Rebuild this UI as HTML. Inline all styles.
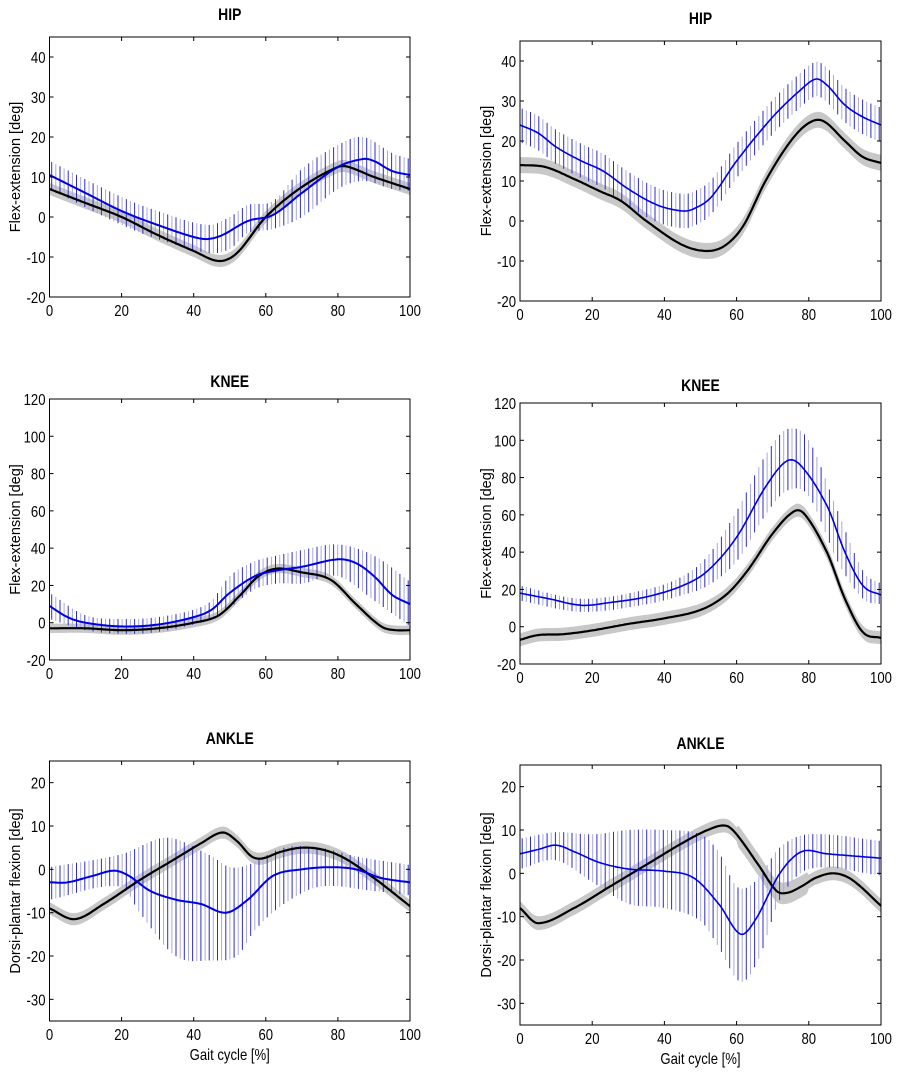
<!DOCTYPE html>
<html><head><meta charset="utf-8"><style>
html,body{margin:0;padding:0;background:#fff;}
svg{display:block;}
text{font-family:"Liberation Sans",sans-serif;fill:#000;}
</style></head><body>
<svg id="s" width="900" height="1075" viewBox="0 0 900 1075" xmlns="http://www.w3.org/2000/svg"></svg>
<script>
const S=document.getElementById('s');
let out='';
function herm(p){return function(x){
 const n=p.length;
 if(x<=p[0][0])return p[0][1]; if(x>=p[n-1][0])return p[n-1][1];
 let i=0;while(p[i+1][0]<x)i++;
 const sl=k=>{const a=p[Math.max(k-1,0)],b=p[Math.min(k+1,n-1)];return (b[1]-a[1])/(b[0]-a[0]);};
 const x0=p[i][0],x1=p[i+1][0],h=x1-x0,t=(x-x0)/h;
 const m0=sl(i)*h,m1=sl(i+1)*h;
 const t2=t*t,t3=t2*t;
 return (2*t3-3*t2+1)*p[i][1]+(t3-2*t2+t)*m0+(-2*t3+3*t2)*p[i+1][1]+(t3-t2)*m1;};}
function nt(x,y,s,anchor,txt,extra){return `<text transform="translate(${x},${y}) scale(0.82,1)" font-size="${s}" text-anchor="${anchor}" ${extra||''}>${txt}</text>`;}
function plot(o){
 const X=v=>o.x0+(o.x1-o.x0)*v/100, Y=v=>o.yb+(o.yt-o.yb)*(v-o.ymin)/(o.ymax-o.ymin);
 const bk=herm(o.black), bl=herm(o.blue);
 const up=o.up?herm(o.up):(x=>bl(x)+o.sd), lo=o.lo?herm(o.lo):(x=>bl(x)-o.sd);
 const bw=o.bw||(x=>1.5);
 let a=[],b=[];
 for(let x=0;x<=100;x+=0.5){a.push(X(x).toFixed(1)+','+Y(bk(x)+bw(x)).toFixed(1));b.unshift(X(x).toFixed(1)+','+Y(bk(x)-bw(x)).toFixed(1));}
 out+=`<polygon points="${a.concat(b).join(' ')}" fill="#c8c8c8"/>`;
 let k=0;
 for(let x=0.6;x<=100;x+=1.15,k++){
  const c=k%2?'#a8a8e4':'#2c2cc8';
  out+=`<line x1="${X(x).toFixed(1)}" x2="${X(x).toFixed(1)}" y1="${Y(up(x)).toFixed(1)}" y2="${Y(lo(x)).toFixed(1)}" stroke="${c}" stroke-width="1"/>`;
 }
 let pb=[],pk=[];
 for(let x=0;x<=100;x+=0.5){pb.push(X(x).toFixed(1)+','+Y(bl(x)).toFixed(1));pk.push(X(x).toFixed(1)+','+Y(bk(x)).toFixed(1));}
 out+=`<polyline points="${pk.join(' ')}" fill="none" stroke="#000" stroke-width="2.2"/>`;
 out+=`<polyline points="${pb.join(' ')}" fill="none" stroke="#0000e0" stroke-width="${o.bs||2}"/>`;
 out+=`<rect x="${o.x0}" y="${o.yt}" width="${o.x1-o.x0}" height="${o.yb-o.yt}" fill="none" stroke="#000" stroke-width="1"/>`;
 for(let v=0;v<=100;v+=20){const xx=X(v);
  out+=`<line x1="${xx}" x2="${xx}" y1="${o.yb}" y2="${o.yb-4}" stroke="#000"/><line x1="${xx}" x2="${xx}" y1="${o.yt}" y2="${o.yt+4}" stroke="#000"/>`;
  out+=nt(xx,o.yb+19,16,'middle',v);}
 for(let v=o.t0;v<=o.t1;v+=o.ts){const yy=Y(v);
  out+=`<line x1="${o.x0}" x2="${o.x0+4}" y1="${yy}" y2="${yy}" stroke="#000"/><line x1="${o.x1}" x2="${o.x1-4}" y1="${yy}" y2="${yy}" stroke="#000"/>`;
  out+=nt(o.x0-4,yy+6,16,'end',v);}
 const cx=(o.x0+o.x1)/2;
 out+=nt(cx,o.ty,17,'middle',o.title,'font-weight="bold"');
 const ly=(o.yt+o.yb)/2;
 out+=`<text transform="translate(${o.lx},${ly}) rotate(-90)" font-size="14.5" text-anchor="middle">${o.ylab}</text>`;
 if(o.gy)out+=nt(cx,o.gy,16,'middle','Gait cycle [%]');
}
const L={x0:49.5,x1:410},R={x0:520,x1:881};
plot({...L,yt:37,yb:297,ymin:-20,ymax:45,t0:-20,t1:40,ts:10,title:'HIP',ty:20,ylab:'Flex-extension [deg]',lx:20,
 black:[[0,7],[10,3.5],[20,0],[30,-4.5],[40,-8.5],[47,-11],[52,-9],[60,0],[70,7.5],[80,12.5],[83,12.5],[90,10],[100,7]],
 blue:[[0,10.5],[10,6],[20,1.5],[30,-2],[40,-5],[44,-5.5],[48,-4.5],[55,-1],[62,0.5],[70,6],[80,12.5],[87,14.5],[90,14],[95,11.5],[100,10.5]],
 up:[[0,14],[20,5],[30,1.5],[44,-2],[50,0],[55,3],[62,4],[70,12],[80,18],[87,20],[95,16],[100,14.5]],
 lo:[[0,7],[20,-2],[30,-5.5],[44,-9],[50,-8],[55,-4],[62,-3],[70,0],[80,7],[87,9],[95,7],[100,6.5]]});
plot({...R,yt:41,yb:301,ymin:-20,ymax:45,t0:-20,t1:40,ts:10,title:'HIP',ty:24,ylab:'Flex-extension [deg]',lx:491,bs:1.6,
 black:[[0,14],[7,13.5],[15,10.5],[22,7.5],[28,5],[35,0],[45,-6],[52,-7.5],[57,-6],[62,-1],[68,10],[75,20],[80,24.5],[84,25],[90,20],[95,16],[100,14.5]],bw:x=>2,
 blue:[[0,24],[5,22],[10,18.5],[17,15],[23,12.5],[30,8],[38,4],[45,2.5],[48,3],[53,6],[60,15],[70,26],[78,33],[82,35.5],[85,34],[90,29],[95,26],[100,24]],sd:4.3});
plot({...L,yt:399,yb:660,ymin:-20,ymax:120,t0:-20,t1:120,ts:20,title:'KNEE',ty:387,ylab:'Flex-extension [deg]',lx:20,
 black:[[0,-3],[10,-3],[20,-4],[30,-3],[40,0],[47,4],[53,15],[58,25],[63,29],[70,27],[78,23],[85,10],[92,-2],[96,-4],[100,-4]],bw:x=>2.5,
 blue:[[0,9],[5,3],[10,0],[20,-2],[30,-1],[40,3],[45,7],[50,16],[57,25],[63,28],[70,30],[80,34],[85,32],[90,25],[95,15],[100,10]],
 up:[[0,16],[10,4],[20,2],[30,3],[40,7],[45,12],[50,25],[57,33],[63,36],[70,39],[80,42],[90,36],[100,22]],
 lo:[[0,2],[10,-4],[20,-6],[30,-5],[40,-1],[45,2],[50,8],[57,18],[63,21],[70,21],[80,25],[90,12],[100,-2]]});
plot({...R,yt:403,yb:664,ymin:-20,ymax:120,t0:-20,t1:120,ts:20,title:'KNEE',ty:391,ylab:'Flex-extension [deg]',lx:491,bs:1.6,
 black:[[0,-7],[5,-4.5],[12,-4],[20,-2],[30,1.5],[40,4.5],[50,9],[57,17],[63,30],[70,50],[76,62],[79,60],[85,40],[90,15],[95,-3],[100,-6]],bw:x=>3.5,
 blue:[[0,18],[8,15],[17,11.5],[25,13],[35,16],[45,22],[52,30],[60,48],[68,75],[74,89],[78,86],[85,65],[90,40],[95,22],[100,17]],
 up:[[0,22],[17,15],[35,20],[45,27],[52,38],[60,62],[68,92],[74,106],[80,100],[88,62],[95,30],[100,23]],
 lo:[[0,14],[17,8],[35,12],[45,17],[52,22],[60,35],[68,60],[74,73],[80,70],[88,35],[95,15],[100,12]]});
plot({...L,yt:761,yb:1021,ymin:-35,ymax:25,t0:-30,t1:20,ts:10,title:'ANKLE',ty:744,ylab:'Dorsi-plantar flexion [deg]',lx:20,gy:1060,
 black:[[0,-9],[7,-11.5],[15,-8],[25,-2.5],[35,2.5],[42,6],[48,8.5],[52,6.5],[56,3],[59,2.5],[64,4],[70,5],[76,4.5],[82,2.5],[90,-2],[100,-8.5]],bw:x=>1.4,
 blue:[[0,-3],[5,-3],[12,-1.5],[18,-0.3],[22,-1.5],[28,-5],[35,-7],[42,-8],[49,-10],[55,-7],[62,-1.5],[70,0],[78,0.5],[85,0],[92,-2],[100,-3]],
 up:[[0,0.5],[20,3.5],[30,7],[35,7],[45,3],[50,0.5],[55,1],[65,5],[75,5],[85,3],[100,1]],
 lo:[[0,-7],[20,-4],[25,-10],[35,-20],[45,-21],[52,-20],[57,-14],[65,-8],[75,-4],[90,-5],[100,-6]]});
plot({...R,yt:765,yb:1025,ymin:-35,ymax:25,t0:-30,t1:20,ts:10,title:'ANKLE',ty:749,ylab:'Dorsi-plantar flexion [deg]',lx:491,gy:1064,bs:1.6,
 black:[[0,-8],[5,-11.5],[15,-8],[25,-3],[35,2],[45,7],[52,10],[57,11],[60,9],[66,2],[71,-4],[74,-4.5],[78,-3],[82,-1],[87,0],[92,-1.5],[100,-7.5]],
 bw:x=>(x>60&&x<80)?2.5:1.6,
 blue:[[0,4.5],[5,5.5],[10,6.5],[15,5],[22,2.5],[30,1],[40,0.5],[48,-1],[55,-7],[61,-14],[65,-11],[72,0],[78,5],[85,4.5],[100,3.5]],
 up:[[0,8],[10,9.5],[20,9],[30,10],[40,10],[50,9],[55,5],[60,-3],[65,-2],[72,6],[80,9],[100,7.5]],
 lo:[[0,1],[10,3],[20,-2],[30,-7],[40,-8],[50,-11],[55,-17],[61,-25],[66,-20],[72,-6],[80,1],[100,-0.5]]});
S.innerHTML=out;
</script>
</body></html>
